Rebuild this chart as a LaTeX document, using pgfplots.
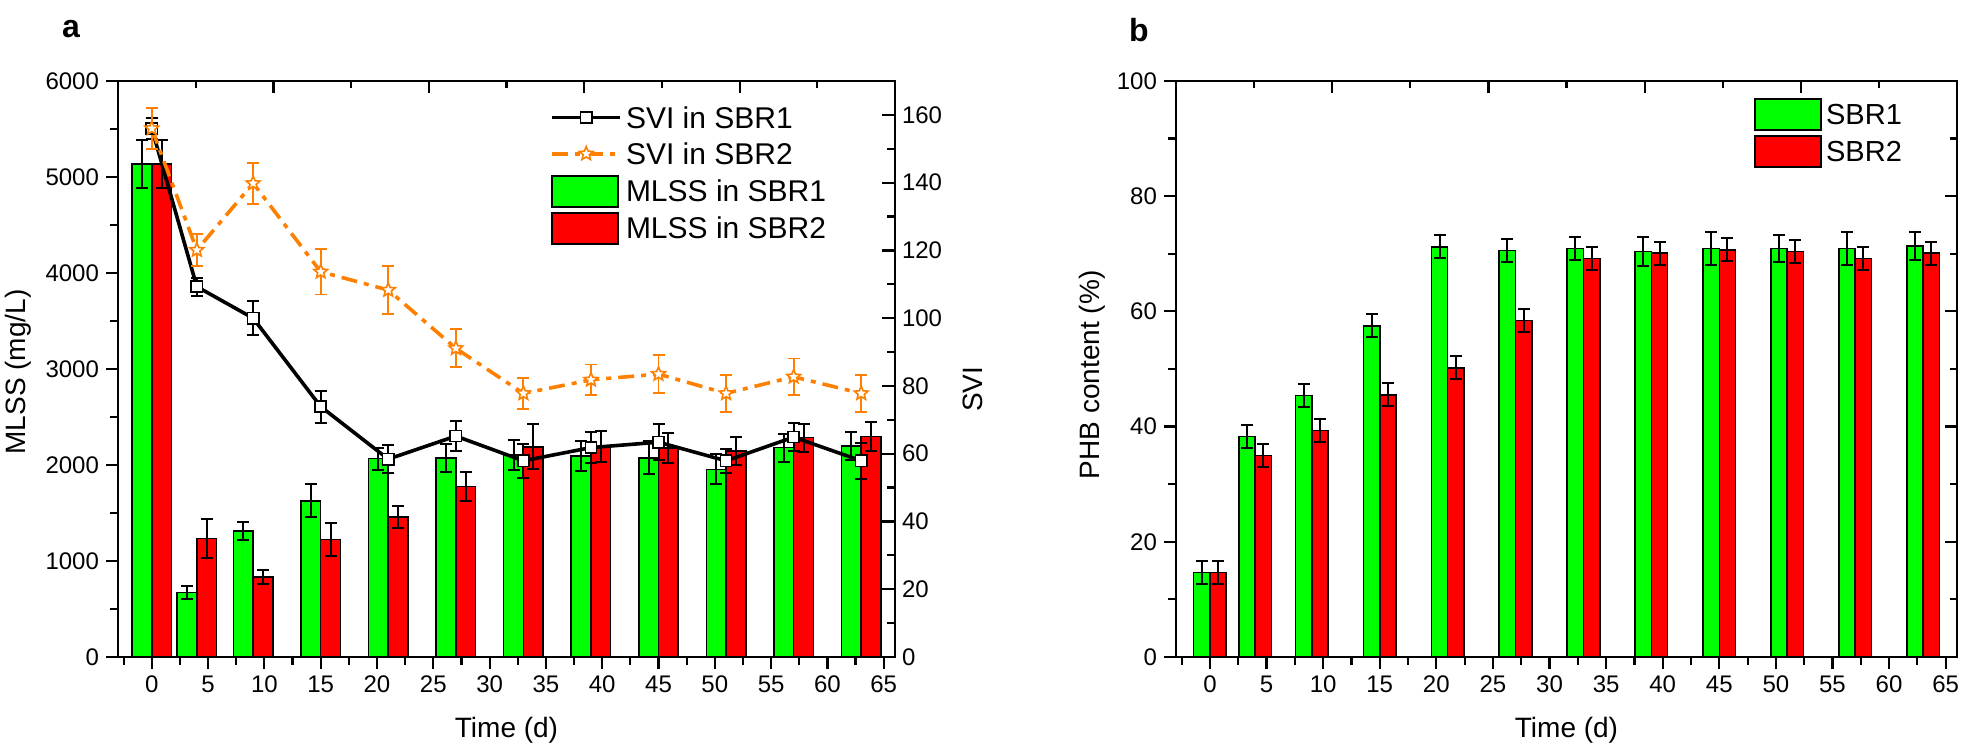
\documentclass[border=0pt]{standalone}
\usepackage{fontspec}
\setmainfont{Liberation Sans}
\usepackage{pgfplots}
\pgfplotsset{compat=1.18}
\usepackage{pgfplotstable}
\definecolor{myorange}{RGB}{255,128,0}
\definecolor{mygreen}{RGB}{0,255,0}
\definecolor{myred}{RGB}{255,0,0}

\pgfdeclareplotmark{ostar}{%
  \pgfpathmoveto{\pgfpointpolar{90}{\pgfplotmarksize}}%
  \pgfpathlineto{\pgfpointpolar{126}{0.45\pgfplotmarksize}}%
  \pgfpathlineto{\pgfpointpolar{162}{\pgfplotmarksize}}%
  \pgfpathlineto{\pgfpointpolar{198}{0.45\pgfplotmarksize}}%
  \pgfpathlineto{\pgfpointpolar{234}{\pgfplotmarksize}}%
  \pgfpathlineto{\pgfpointpolar{270}{0.45\pgfplotmarksize}}%
  \pgfpathlineto{\pgfpointpolar{306}{\pgfplotmarksize}}%
  \pgfpathlineto{\pgfpointpolar{342}{0.45\pgfplotmarksize}}%
  \pgfpathlineto{\pgfpointpolar{18}{\pgfplotmarksize}}%
  \pgfpathlineto{\pgfpointpolar{54}{0.45\pgfplotmarksize}}%
  \pgfpathclose
  \pgfusepathqfillstroke
}

\pgfplotstableread{
t g ge r re
0 5135 250 5135 250
4 670 70 1236 200
9 1312 95 833 70
15 1628 170 1222 175
21 2066 115 1458 110
27 2073 150 1774 150
33 2104 158 2190 234
39 2094 160 2190 163
45 2076 170 2174 157
51 1955 155 2146 146
57 2181 146 2285 146
63 2198 144 2295 148
}\mlss

\pgfplotstableread{
t s1 e1 s2 e2
0 156 3 156 6
4 109.3 2.7 120.1 4.8
9 100 5 139.8 6
15 73.9 4.7 113.7 6.7
21 58.4 4.1 108.3 7
27 65.2 4.5 91.1 5.6
33 57.9 5 77.8 4.5
39 61.8 4.6 81.8 4.5
45 63.4 5.4 83.5 5.7
51 57.9 3.5 77.8 5.5
57 64.9 4.2 82.7 5.4
63 57.9 5.4 77.8 5.5
}\svi

\pgfplotstableread{
t g ge r re
0 14.7 2 14.7 2
4 38.3 2 35.0 2
9 45.4 2 39.3 2
15 57.5 2 45.5 2
21 71.2 2 50.2 2
27 70.6 2 58.4 2
33 70.9 2 69.2 2
39 70.4 2.5 70.1 2
45 70.9 2.8 70.7 2
51 70.9 2.4 70.4 2
57 70.9 2.8 69.2 2
63 71.4 2.4 70.1 2
}\phb

\pgfplotsset{
  common/.style={
    scale only axis, height=288pt, anchor=south west,
    tick style={line width=1.1pt, black},
    axis line style={line width=1.1pt},
    major tick length=6pt, minor tick length=4pt,
    tick label style={font=\fontsize{12}{14}\selectfont},
    /pgf/number format/assume math mode=true,
    /pgf/number format/1000 sep={},
  },
  barerr/.style={
    error bars/y dir=both, error bars/y explicit,
    error bars/error bar style={line width=1pt, black, solid},
    error bars/error mark options={rotate=90, line width=1pt, black, mark size=3pt, solid},
  },
  rectleg/.style={legend image code/.code={\draw[##1, line width=0.9pt] (0pt,-6.6pt) rectangle (33pt,8.9pt);}},
  lineleg/.style={legend image code/.code={\draw[mark repeat=2, mark phase=2, ##1] plot coordinates {(0pt,1.5pt) (17pt,1.5pt) (34pt,1.5pt)};}},
}

\begin{document}
\begin{tikzpicture}
\path[use as bounding box] (0,0) rectangle (980.5pt,374.5pt);

\node[font=\bfseries\fontsize{16}{18}\selectfont] at (35.5pt,360pt) {a};
\node[font=\bfseries\fontsize{16}{18}\selectfont] at (569.5pt,359.5pt) {b};

% ---------- left panel: MLSS bars ----------
\begin{axis}[common, at={(59pt,46pt)}, width=388.5pt,
  xmin=-3, xmax=66, ymin=0, ymax=6000,
  xtick={0,5,...,65}, minor xtick={-2.5,2.5,7.5,...,62.5},
  ytick={0,1000,...,6000}, minor ytick={500,1500,...,5500},
  xtick pos=left, ytick pos=left, tick align=outside,
  xlabel={Time (d)}, ylabel={MLSS (mg/L)},
  every axis x label/.style={at={(axis description cs:0.5,-0.128)}, anchor=center, font=\fontsize{14}{16}\selectfont},
  every axis y label/.style={at={(axis description cs:-0.128,0.495)}, anchor=center, rotate=90, font=\fontsize{14}{16}\selectfont},
]
\addplot[ybar, bar width=1.75, bar shift=0pt, fill=mygreen, draw=black, line width=0.8pt, barerr]
  table[x expr=\thisrow{t}-0.875, y=g, y error=ge] {\mlss};
\addplot[ybar, bar width=1.75, bar shift=0pt, fill=myred, draw=black, line width=0.8pt, barerr]
  table[x expr=\thisrow{t}+0.875, y=r, y error=re] {\mlss};
\end{axis}

% top ticks of left panel
\begin{axis}[common, at={(59pt,46pt)}, width=388.5pt,
  xmin=0, xmax=5, ymin=0, ymax=1,
  axis x line*=top, axis y line=none,
  xtick={1,2,3,4}, minor xtick={0.5,1.5,2.5,3.5,4.5}, xticklabels={},
  tick align=inside, minor tick length=3.7pt]
\end{axis}

% ---------- left panel: SVI lines ----------
\begin{axis}[common, at={(59pt,46pt)}, width=388.5pt,
  xmin=-3, xmax=66, ymin=0, ymax=170,
  axis x line=none, axis y line*=right,
  ytick={0,20,...,160}, minor ytick={10,30,...,150},
  tick align=inside, major tick length=6.5pt,
  ylabel={SVI},
  every axis y label/.style={at={(axis description cs:1.0997,0.465)}, anchor=center, rotate=90, font=\fontsize{14}{16}\selectfont},
  legend style={at={(0.556,0.964)}, anchor=north west, draw=none, fill=none,
    font=\fontsize{15}{17}\selectfont, inner sep=0pt, row sep=0pt,
    nodes={inner sep=2pt, text height=11pt, text depth=3.2pt}},
  legend cell align=left,
]
\addplot[black, line width=1.8pt, mark=square*, mark size=2.8pt,
  mark options={solid, fill=white, draw=black, line width=0.8pt},
  error bars/y dir=both, error bars/y explicit,
  error bars/error bar style={line width=1pt, black, solid},
  error bars/error mark options={rotate=90, line width=1pt, black, mark size=3pt, solid},
  lineleg]
  table[x=t, y=s1, y error=e1] {\svi};
\addlegendentry{SVI in SBR1}
\addplot[myorange, line width=1.8pt, dash pattern=on 8pt off 3.5pt on 2.5pt off 3.5pt,
  mark=ostar, mark size=3.6pt,
  mark options={solid, fill=white, draw=myorange, line width=0.8pt},
  error bars/y dir=both, error bars/y explicit,
  error bars/error bar style={line width=0.9pt, myorange, solid},
  error bars/error mark options={rotate=90, line width=0.9pt, myorange, mark size=3pt, solid},
  lineleg]
  table[x=t, y=s2, y error=e2] {\svi};
\addlegendentry{SVI in SBR2}
\addlegendimage{rectleg, fill=mygreen, draw=black}
\addlegendentry{MLSS in SBR1}
\addlegendimage{rectleg, fill=myred, draw=black}
\addlegendentry{MLSS in SBR2}
\end{axis}

% ---------- right panel: PHB ----------
\begin{axis}[common, at={(588pt,46pt)}, width=390.5pt,
  xmin=-3, xmax=66, ymin=0, ymax=100,
  xtick={0,5,...,65}, minor xtick={-2.5,2.5,7.5,...,62.5},
  ytick={0,20,...,100}, minor ytick={10,30,...,90},
  xtick pos=left, ytick pos=left, tick align=outside,
  xlabel={Time (d)}, ylabel={PHB content (\%)},
  every axis x label/.style={at={(axis description cs:0.5,-0.128)}, anchor=center, font=\fontsize{14}{16}\selectfont},
  every axis y label/.style={at={(axis description cs:-0.1076,0.49)}, anchor=center, rotate=90, font=\fontsize{14}{16}\selectfont},
  legend style={at={(0.740,0.9715)}, anchor=north west, draw=none, fill=none,
    font=\fontsize{14.5}{17}\selectfont, inner sep=0pt, row sep=0pt,
    nodes={inner sep=2pt, text height=11pt, text depth=3.2pt}},
  legend cell align=left,
]
\addplot[ybar, bar width=1.44, bar shift=0pt, fill=mygreen, draw=black, line width=0.8pt, barerr, rectleg]
  table[x expr=\thisrow{t}-0.72, y=g, y error=ge] {\phb};
\addlegendentry{SBR1}
\addplot[ybar, bar width=1.44, bar shift=0pt, fill=myred, draw=black, line width=0.8pt, barerr, rectleg]
  table[x expr=\thisrow{t}+0.72, y=r, y error=re] {\phb};
\addlegendentry{SBR2}
\end{axis}

% top and right ticks of right panel
\begin{axis}[common, at={(588pt,46pt)}, width=390.5pt,
  xmin=0, xmax=5, ymin=0, ymax=100,
  axis x line*=top, axis y line*=right,
  xtick={1,2,3,4}, minor xtick={0.5,1.5,2.5,3.5,4.5}, xticklabels={},
  ytick={0,20,...,100}, minor ytick={10,30,...,90}, yticklabels={},
  tick align=inside, minor tick length=3.7pt]
\end{axis}

\end{tikzpicture}
\end{document}
